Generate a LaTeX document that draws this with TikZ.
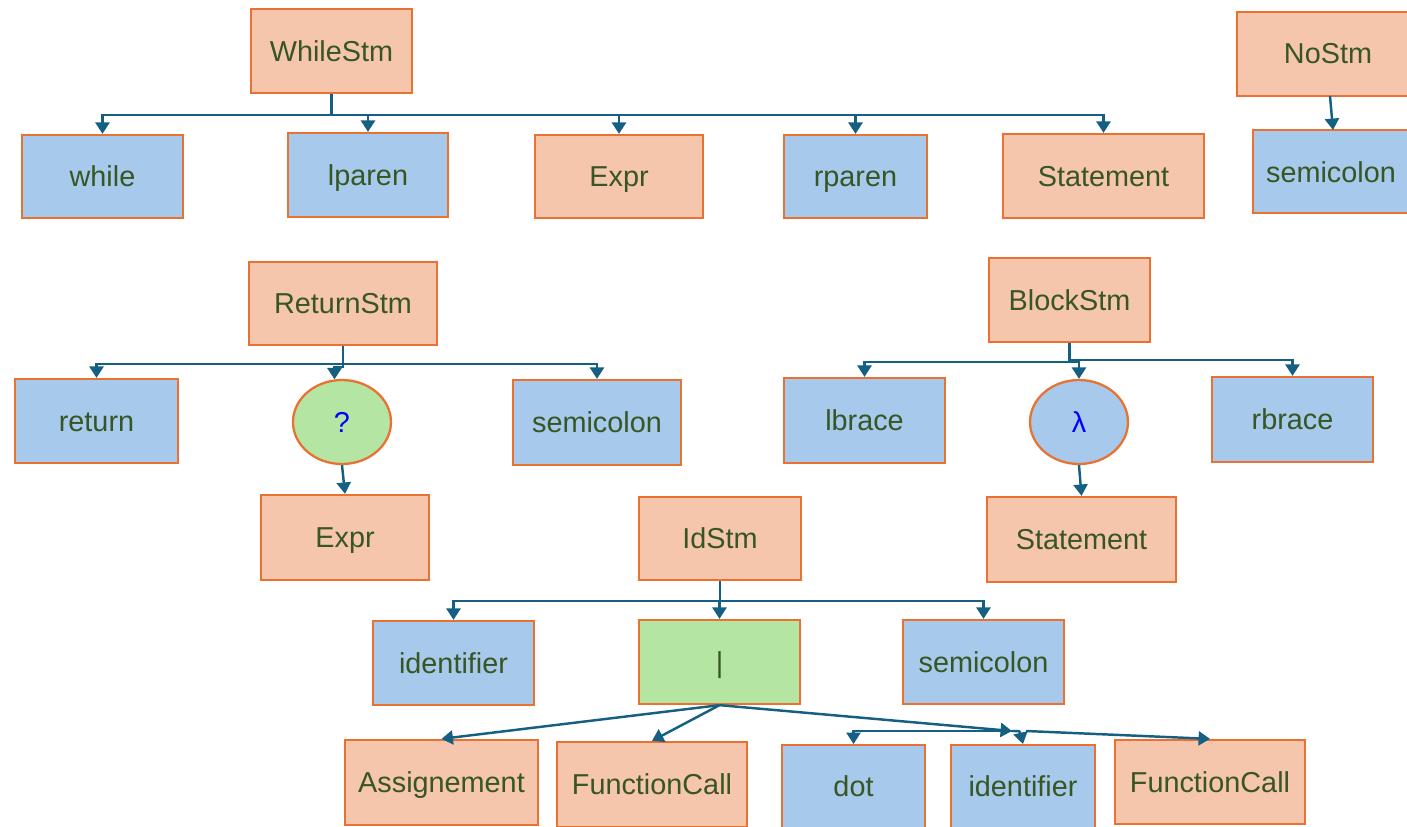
\documentclass[tikz,border=0pt]{standalone}
\usepackage{fontspec}
\setmainfont{Liberation Sans}
\usetikzlibrary{arrows.meta,shapes.geometric}
\definecolor{ofill}{HTML}{F6C6AC}
\definecolor{bfill}{HTML}{A6C9EC}
\definecolor{gfill}{HTML}{B4E5A2}
\definecolor{bord}{HTML}{E97132}
\definecolor{lin}{HTML}{156082}
\definecolor{txt}{HTML}{375623}
\tikzset{
  lbl/.style={text=txt, font=\fontsize{16.4}{19}\selectfont, text height=11.8pt, text depth=0pt, inner sep=0pt},
  base/.style={lbl, draw=bord, line width=1.3pt},
  sz/.style 2 args={minimum width=#1*0.02cm, minimum height=#2*0.02cm},
  obox/.style={base, rectangle, fill=ofill},
  bbox/.style={base, rectangle, fill=bfill},
  gbox/.style={base, rectangle, fill=gfill},
  gell/.style={base, ellipse, fill=gfill, text=blue},
  bell/.style={base, ellipse, fill=bfill, text=blue},
  conn/.style={draw=lin, line width=1.4pt, -{Triangle[width=8pt,length=6.5pt]}},
}
\begin{document}
\begin{tikzpicture}[x=0.02cm,y=-0.02cm]
\useasboundingbox (0,0) rectangle (1407,826);
\clip (0,0) rectangle (1407,826);
% WhileStm
\node[obox, sz={161}{84}] (while0) at (331.5,51) {WhileStm};
\node[bbox, sz={161}{83}] (kwwhile) at (102.5,176.5) {while};
\node[bbox, sz={160}{84}] (lparen) at (368,175) {lparen};
\node[obox, sz={168}{83}] (expr1) at (619,176.5) {Expr};
\node[bbox, sz={143}{83}] (rparen) at (855.5,176.5) {rparen};
\node[obox, sz={201}{84}] (stmt1) at (1103.5,176) {Statement};
% NoStm
\node[obox, sz={184}{84}, anchor=west] (nostm) at (1236,54) {};
\node[lbl] (nostmt) at (1328,53) {NoStm};
\node[bbox, sz={170}{83}, anchor=west] (semi0) at (1252,171.5) {};
\node[lbl] (semi0t) at (1331,172) {semicolon};
% ReturnStm
\node[obox, sz={188}{83}] (ret0) at (343,303.5) {ReturnStm};
\node[bbox, sz={163}{84}] (kwret) at (96.5,421) {return};
\node[gell, sz={98}{84}] (q) at (342,422) {?};
\node[bbox, sz={168}{85}] (semi1) at (597,422.5) {semicolon};
\node[obox, sz={168}{85}] (expr2) at (345,537.5) {Expr};
% BlockStm
\node[obox, sz={161}{84}] (blk0) at (1069.5,300) {BlockStm};
\node[bbox, sz={161}{85}] (lbrace) at (864.5,420.5) {lbrace};
\node[bell, sz={98}{84}] (lam) at (1079,422) {λ};
\node[bbox, sz={161}{85}] (rbrace) at (1292.5,419.5) {rbrace};
\node[obox, sz={189}{85}] (stmt2) at (1081.5,539.5) {Statement};
% IdStm
\node[obox, sz={162}{83}] (id0) at (720,538.5) {IdStm};
\node[bbox, sz={161}{84}] (ident1) at (453.5,663) {identifier};
\node[gbox, sz={161}{84}] (bar) at (719.5,662) {|};
\node[bbox, sz={161}{84}] (semi2) at (983.5,662) {semicolon};
\node[obox, sz={193}{85}] (assign) at (441.5,782.5) {Assignement};
\node[obox, sz={190}{85}] (fc1) at (652,784.5) {FunctionCall};
\node[bbox, sz={143}{86}, anchor=north] (dot) at (853.5,744) {};
\node[lbl] (dott) at (853.5,786) {dot};
\node[bbox, sz={144}{86}, anchor=north] (ident2) at (1023,744) {};
\node[lbl] (ident2t) at (1023,786) {identifier};
\node[obox, sz={190}{84}] (fc2) at (1210,782) {FunctionCall};
% connectors WhileStm
\draw[conn] (while0.south) -- ++(0,21) -| (kwwhile.north);
\draw[conn] (while0.south) -- ++(0,21) -| (lparen.north);
\draw[conn] (while0.south) -- ++(0,21) -| (expr1.north);
\draw[conn] (while0.south) -- ++(0,21) -| (rparen.north);
\draw[conn] (while0.south) -- ++(0,21) -| (stmt1.north);
% NoStm
\coordinate (ns1) at (1330,96);
\coordinate (ns2) at (1333,130);
\draw[conn] (ns1) -- (ns2);
% ReturnStm
\draw[conn] (ret0.south) -- ++(0,18) -| (kwret.north);
\draw[conn] (ret0.south) -- ++(0,18) -| (semi1.north);
\draw[conn] (ret0.south) -- ++(0,21) -| (q.100);
\draw[conn] (q.south) -- (expr2.north);
% BlockStm
\draw[conn] (blk0.south) -- ++(0,19) -| (lbrace.north);
\draw[conn] (blk0.south) -- ++(0,17) -| (rbrace.north);
\draw[conn] (blk0.south) -- ++(0,19) -| (lam.north);
\draw[conn] (lam.south) -- (stmt2.north);
% IdStm
\draw[conn] (id0.south) -- ++(0,20) -| (ident1.north);
\draw[conn] (id0.south) -- ++(0,20) -| (bar.north);
\draw[conn] (id0.south) -- ++(0,20) -| (semi2.north);
% alternatives
\coordinate (j) at (1012,731);
\coordinate (k) at (1026,731);
\draw[conn] (bar.south) -- (assign.north);
\draw[conn] (bar.south) -- (fc1.north);
\draw[conn] (bar.south) -- (j);
\draw[conn] (j) -| (dot.north);
\draw[conn] (j) .. controls (1020,731) .. (ident2.north);
\draw[conn] (k) -- (fc2.north);
\end{tikzpicture}
\end{document}
